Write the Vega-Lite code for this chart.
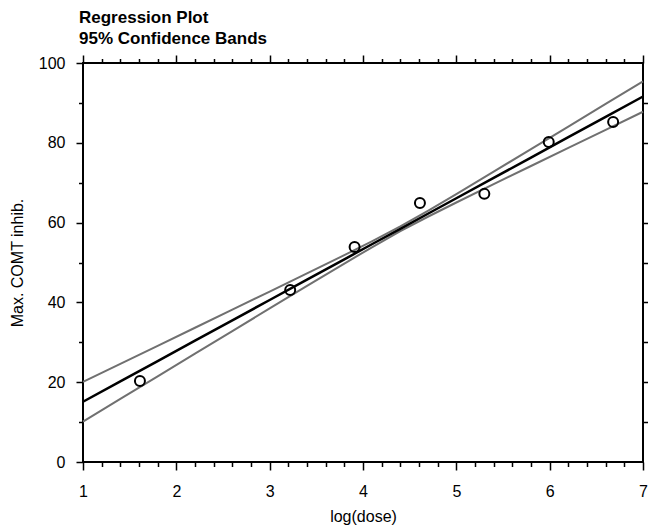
{
  "$schema": "https://vega.github.io/schema/vega-lite/v6.json",
  "autosize": "none",
  "padding": {"left": 83, "top": 63, "right": 5, "bottom": 63},
  "width": 560,
  "height": 399,
  "background": "white",
  "title": {
    "text": ["Regression Plot", "95% Confidence Bands"],
    "anchor": "start",
    "frame": "group",
    "font": "Liberation Sans",
    "fontSize": 17,
    "fontWeight": "bold",
    "lineHeight": 21,
    "color": "black",
    "offset": 6,
    "dx": -4
  },
  "config": {
    "view": {"stroke": "black", "strokeWidth": 2},
    "axis": {
      "domain": false,
      "grid": false,
      "tickColor": "black",
      "tickWidth": 1.5,
      "labelFont": "Liberation Sans",
      "labelFontSize": 16,
      "labelColor": "black",
      "labelFlush": false,
      "labelOverlap": false,
      "titleFont": "Liberation Sans",
      "titleFontSize": 16,
      "titleFontWeight": "normal",
      "titleColor": "black"
    }
  },
  "datasets": {
    "bands": [
      {"x": 1.0, "fit": 15.1, "upper": 20.07, "lower": 10.13},
      {"x": 1.4, "fit": 20.2, "upper": 24.59, "lower": 15.81},
      {"x": 1.8, "fit": 25.3, "upper": 29.12, "lower": 21.48},
      {"x": 2.2, "fit": 30.4, "upper": 33.65, "lower": 27.15},
      {"x": 2.6, "fit": 35.5, "upper": 38.18, "lower": 32.82},
      {"x": 3.0, "fit": 40.6, "upper": 42.72, "lower": 38.48},
      {"x": 3.4, "fit": 45.7, "upper": 47.27, "lower": 44.13},
      {"x": 3.8, "fit": 50.8, "upper": 51.86, "lower": 49.74},
      {"x": 4.1, "fit": 54.63, "upper": 55.37, "lower": 53.88},
      {"x": 4.4, "fit": 58.45, "upper": 59.05, "lower": 57.85},
      {"x": 4.7, "fit": 62.28, "upper": 63.02, "lower": 61.53},
      {"x": 5.0, "fit": 66.1, "upper": 67.16, "lower": 65.04},
      {"x": 5.4, "fit": 71.2, "upper": 72.77, "lower": 69.63},
      {"x": 5.8, "fit": 76.3, "upper": 78.42, "lower": 74.18},
      {"x": 6.2, "fit": 81.4, "upper": 84.08, "lower": 78.72},
      {"x": 6.6, "fit": 86.5, "upper": 89.75, "lower": 83.25},
      {"x": 7.0, "fit": 91.6, "upper": 95.42, "lower": 87.78}
    ],
    "points": [
      {"x": 1.61, "y": 20.3},
      {"x": 3.22, "y": 43.1},
      {"x": 3.91, "y": 53.9},
      {"x": 4.61, "y": 64.9},
      {"x": 5.30, "y": 67.2},
      {"x": 5.99, "y": 80.2},
      {"x": 6.68, "y": 85.2}
    ]
  },
  "resolve": {"axis": {"x": "independent", "y": "independent"}},
  "layer": [
    {
      "data": {"name": "bands"},
      "mark": {"type": "line", "color": "#707070", "strokeWidth": 2},
      "encoding": {
        "x": {"field": "x", "type": "quantitative",
          "scale": {"domain": [1, 7], "nice": false, "zero": false},
          "axis": {"orient": "bottom",
            "values": [1, 1.2, 1.4, 1.6, 1.8, 2, 2.2, 2.4, 2.6, 2.8, 3, 3.2, 3.4, 3.6, 3.8, 4, 4.2, 4.4, 4.6, 4.8, 5, 5.2, 5.4, 5.6, 5.8, 6, 6.2, 6.4, 6.6, 6.8, 7],
            "tickSize": {"condition": {"test": "abs(datum.value - round(datum.value)) < 0.01", "value": 8}, "value": 4.5},
            "labelExpr": "abs(datum.value - round(datum.value)) < 0.01 ? format(datum.value, 'd') : ''",
            "labelPadding": 13, "title": "log(dose)", "titlePadding": 9}},
        "y": {"field": "upper", "type": "quantitative",
          "scale": {"domain": [0, 100], "nice": false, "zero": false},
          "axis": {"orient": "left",
            "values": [0, 10, 20, 30, 40, 50, 60, 70, 80, 90, 100],
            "tickSize": {"condition": {"test": "datum.value % 20 === 0", "value": 7}, "value": 4.5},
            "labelExpr": "datum.value % 20 === 0 ? datum.label : ''",
            "labelPadding": 11, "title": "Max. COMT inhib.", "titlePadding": 13}}
      }
    },
    {
      "data": {"name": "bands"},
      "mark": {"type": "line", "color": "#707070", "strokeWidth": 2},
      "encoding": {
        "x": {"field": "x", "type": "quantitative",
          "axis": {"orient": "top",
            "values": [1, 1.2, 1.4, 1.6, 1.8, 2, 2.2, 2.4, 2.6, 2.8, 3, 3.2, 3.4, 3.6, 3.8, 4, 4.2, 4.4, 4.6, 4.8, 5, 5.2, 5.4, 5.6, 5.8, 6, 6.2, 6.4, 6.6, 6.8, 7],
            "tickSize": {"condition": {"test": "abs(datum.value - round(datum.value)) < 0.01", "value": 8}, "value": 4.5},
            "labels": false, "title": null}},
        "y": {"field": "lower", "type": "quantitative",
          "axis": {"orient": "right", "values": [10, 20, 30, 40, 50, 60, 70, 80, 90], "tickSize": 5, "labels": false, "title": null}}
      }
    },
    {
      "data": {"name": "bands"},
      "mark": {"type": "line", "color": "black", "strokeWidth": 2.5},
      "encoding": {
        "x": {"field": "x", "type": "quantitative", "axis": null},
        "y": {"field": "fit", "type": "quantitative", "axis": null}
      }
    },
    {
      "data": {"name": "points"},
      "mark": {"type": "point", "shape": "circle", "filled": false, "color": "black", "strokeWidth": 2, "size": 100, "opacity": 1},
      "encoding": {
        "x": {"field": "x", "type": "quantitative", "axis": null},
        "y": {"field": "y", "type": "quantitative", "axis": null}
      }
    }
  ]
}
